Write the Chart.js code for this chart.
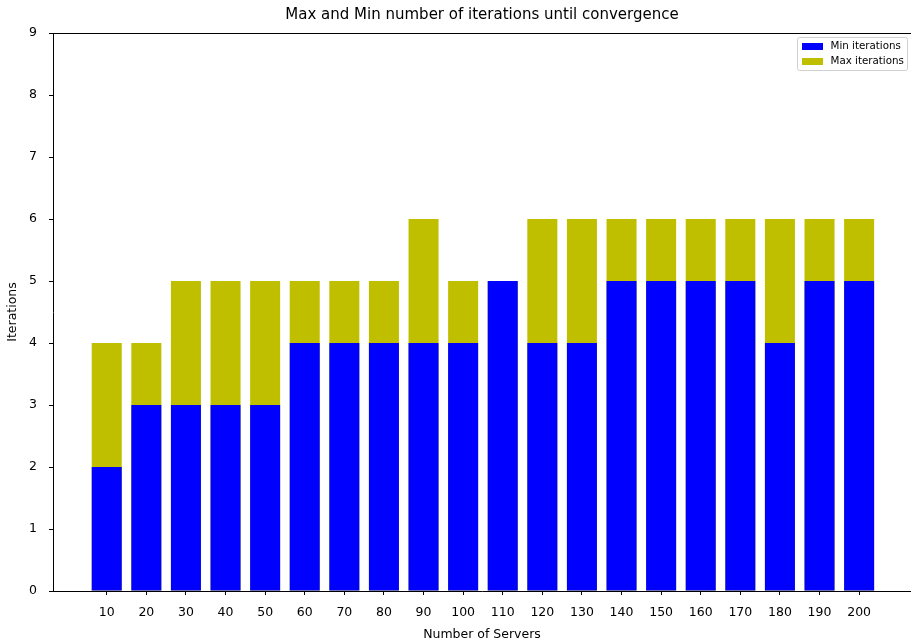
<!DOCTYPE html>
<html>
<head>
<meta charset="utf-8">
<script src="https://cdn.jsdelivr.net/npm/chart.js@4/dist/chart.umd.min.js"></script>
<style>
  html, body { margin: 0; padding: 0; background: #fff; }
  #wrap { width: 911px; height: 643px; }
</style>
</head>
<body>
<div id="wrap"><canvas id="c" width="911" height="643"></canvas></div>
<script>
const servers = [10, 20, 30, 40, 50, 60, 70, 80, 90, 100, 110, 120, 130, 140, 150, 160, 170, 180, 190, 200];
const minIterations = [2, 3, 3, 3, 3, 4, 4, 4, 4, 4, 5, 4, 4, 5, 5, 5, 5, 4, 5, 5];
const maxIterations = [4, 4, 5, 5, 5, 5, 5, 5, 6, 5, 5, 6, 6, 6, 6, 6, 6, 6, 6, 6];
const yTicks = [0, 1, 2, 3, 4, 5, 6, 7, 8, 9];
const titleText = 'Max and Min number of iterations until convergence';

const FONT = "'DejaVu Sans', sans-serif";

const decorPlugin = {
  id: 'decor',
  afterDraw(chart) {
    const ctx = chart.ctx;
    const a = chart.chartArea;
    ctx.save();
    // top spine
    ctx.strokeStyle = '#000';
    ctx.lineWidth = 1;
    ctx.beginPath();
    ctx.moveTo(a.left, Math.round(a.top) + 0.5);
    ctx.lineTo(a.right, Math.round(a.top) + 0.5);
    ctx.stroke();
    // title
    ctx.fillStyle = '#000';
    ctx.font = "15px " + FONT;
    ctx.textAlign = 'center';
    ctx.textBaseline = 'middle';
    ctx.fillText(titleText, (a.left + a.right) / 2, 15);
    // legend box
    const bx = 797.5, by = 37.5, bw = 110, bh = 33;
    ctx.strokeStyle = '#d0d0d0';
    ctx.fillStyle = 'rgba(255,255,255,0.8)';
    ctx.beginPath();
    if (ctx.roundRect) ctx.roundRect(bx, by, bw, bh, 2); else ctx.rect(bx, by, bw, bh);
    ctx.fill();
    ctx.stroke();
    const ds = chart.data.datasets;
    ctx.font = "10.3px " + FONT;
    ctx.textAlign = 'left';
    ds.forEach((d, i) => {
      const y = 43 + i * 15;
      ctx.fillStyle = d.backgroundColor;
      ctx.fillRect(802, y, 21, 7);
      ctx.fillStyle = '#000';
      ctx.fillText(d.label, 830.5, y + 3.5);
    });
    ctx.restore();
  }
};

new Chart(document.getElementById('c'), {
  type: 'bar',
  data: {
    datasets: [
      {
        label: 'Min iterations',
        data: servers.map((s, i) => ({ x: s, y: minIterations[i] })),
        backgroundColor: '#0000ff',
        grouped: false,
        barPercentage: 0.758,
        categoryPercentage: 1.0,
        order: 0
      },
      {
        label: 'Max iterations',
        data: servers.map((s, i) => ({ x: s, y: maxIterations[i] })),
        backgroundColor: '#bfbf00',
        grouped: false,
        barPercentage: 0.758,
        categoryPercentage: 1.0,
        order: 1
      }
    ]
  },
  options: {
    responsive: false,
    animation: false,
    devicePixelRatio: 1,
    layout: { padding: { top: 33, right: 0, bottom: 0, left: 0 } },
    plugins: {
      legend: { display: false },
      title: { display: false },
      tooltip: { enabled: false }
    },
    scales: {
      x: {
        type: 'linear',
        offset: false,
        min: -3.57,
        max: 213.1,
        afterBuildTicks(scale) { scale.ticks = servers.map(v => ({ value: v })); },
        afterFit(scale) { scale.height = 52; },
        grid: { offset: false, drawOnChartArea: false, drawTicks: true, tickLength: 4, tickColor: '#000', tickWidth: 1 },
        border: { display: true, color: '#000', width: 1 },
        ticks: { color: '#000', font: { family: FONT, size: 12.5 }, padding: 10, maxRotation: 0, autoSkip: false },
        title: { display: true, text: 'Number of Servers', color: '#000', font: { family: FONT, size: 12.5 }, padding: { top: 0, bottom: 1 } }
      },
      y: {
        min: 0,
        max: 9,
        afterBuildTicks(scale) { scale.ticks = yTicks.map(v => ({ value: v })); },
        afterFit(scale) { scale.width = 53; },
        grid: { drawOnChartArea: false, drawTicks: true, tickLength: 4, tickColor: '#000', tickWidth: 1 },
        border: { display: true, color: '#000', width: 1 },
        ticks: { color: '#000', font: { family: FONT, size: 12.5 }, padding: 12 },
        title: { display: true, text: 'Iterations', color: '#000', font: { family: FONT, size: 12.5 }, padding: { top: 5, bottom: 0 } }
      }
    }
  },
  plugins: [decorPlugin]
});
</script>
</body>
</html>
